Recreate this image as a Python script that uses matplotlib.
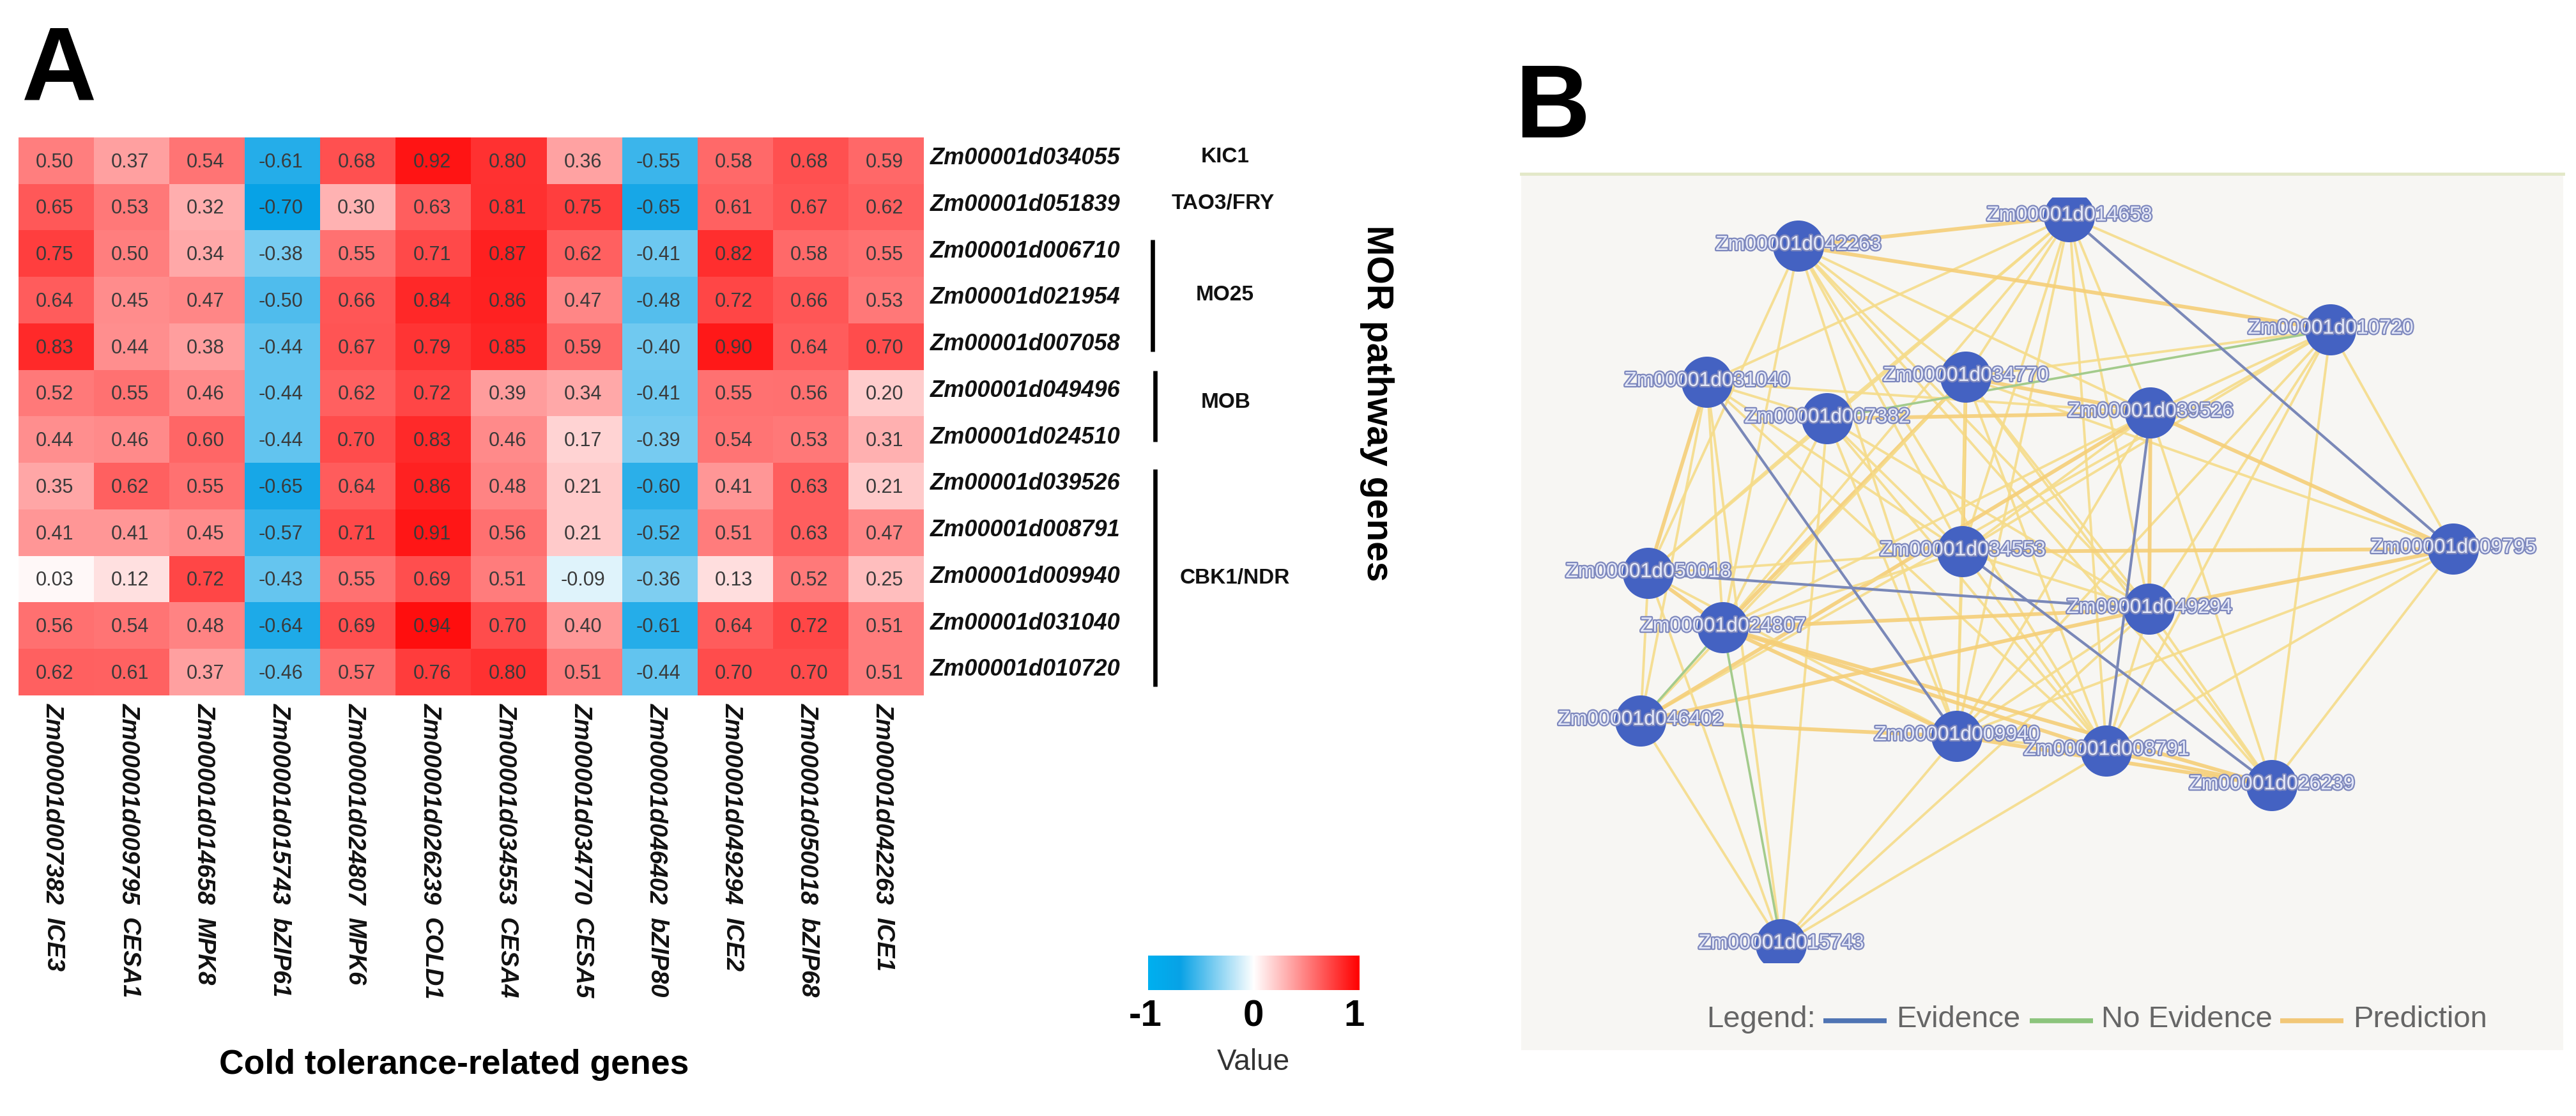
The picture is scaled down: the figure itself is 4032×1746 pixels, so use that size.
import numpy as np
import matplotlib
matplotlib.use('Agg')
import matplotlib.pyplot as plt
import matplotlib.patheffects as pe
from matplotlib.colors import LinearSegmentedColormap
from matplotlib.patches import Rectangle

plt.rcParams['font.family'] = ['Liberation Sans', 'DejaVu Sans']

# panel A
row_genes = ['034055', '051839', '006710', '021954', '007058', '049496',
             '024510', '039526', '008791', '009940', '031040', '010720']
col_genes = ['007382', '009795', '014658', '015743', '024807', '026239',
             '034553', '034770', '046402', '049294', '050018', '042263']
col_names = ['ICE3', 'CESA1', 'MPK8', 'bZIP61', 'MPK6', 'COLD1',
             'CESA4', 'CESA5', 'bZIP80', 'ICE2', 'bZIP68', 'ICE1']
values = [
    [0.50, 0.37, 0.54, -0.61, 0.68, 0.92, 0.80, 0.36, -0.55, 0.58, 0.68, 0.59],
    [0.65, 0.53, 0.32, -0.70, 0.30, 0.63, 0.81, 0.75, -0.65, 0.61, 0.67, 0.62],
    [0.75, 0.50, 0.34, -0.38, 0.55, 0.71, 0.87, 0.62, -0.41, 0.82, 0.58, 0.55],
    [0.64, 0.45, 0.47, -0.50, 0.66, 0.84, 0.86, 0.47, -0.48, 0.72, 0.66, 0.53],
    [0.83, 0.44, 0.38, -0.44, 0.67, 0.79, 0.85, 0.59, -0.40, 0.90, 0.64, 0.70],
    [0.52, 0.55, 0.46, -0.44, 0.62, 0.72, 0.39, 0.34, -0.41, 0.55, 0.56, 0.20],
    [0.44, 0.46, 0.60, -0.44, 0.70, 0.83, 0.46, 0.17, -0.39, 0.54, 0.53, 0.31],
    [0.35, 0.62, 0.55, -0.65, 0.64, 0.86, 0.48, 0.21, -0.60, 0.41, 0.63, 0.21],
    [0.41, 0.41, 0.45, -0.57, 0.71, 0.91, 0.56, 0.21, -0.52, 0.51, 0.63, 0.47],
    [0.03, 0.12, 0.72, -0.43, 0.55, 0.69, 0.51, -0.09, -0.36, 0.13, 0.52, 0.25],
    [0.56, 0.54, 0.48, -0.64, 0.69, 0.94, 0.70, 0.40, -0.61, 0.64, 0.72, 0.51],
    [0.62, 0.61, 0.37, -0.46, 0.57, 0.76, 0.80, 0.51, -0.44, 0.70, 0.70, 0.51],
]
group_names = ['KIC1', 'TAO3/FRY', 'MO25', 'MOB', 'CBK1/NDR']
group_x = [1918, 1914, 1917, 1919, 1933]
group_y = [245, 318, 462, 629, 904]
bar_x = [1804, 1808, 1808]
bar_top = [375, 580, 734]
bar_bottom = [550, 691, 1074]

# panel B, node places are in picture pixels
node_ids = ['014658', '042263', '010720', '031040', '034770', '007382',
            '039526', '034553', '009795', '050018', '049294', '024807',
            '046402', '009940', '008791', '026239', '015743']
node_x = [3239, 2815, 3648, 2672, 3077, 2860, 3366, 3072, 3840, 2580, 3364,
          2697, 2568, 3063, 3297, 3556, 2788]
node_y = [339, 385, 516, 598, 590, 655, 646, 863, 859, 897, 953, 982, 1128,
          1152, 1175, 1229, 1478]
prediction = {
    0: [1, 2, 3, 4, 5, 6, 7, 9, 10, 11, 13, 14],
    1: [2, 4, 6, 7, 9, 10, 11, 13, 14, 15],
    2: [4, 6, 7, 8, 10, 12, 13, 14, 15],
    3: [5, 6, 7, 9, 11, 12, 14, 16],
    4: [6, 7, 8, 10, 11, 12, 13, 14, 15],
    5: [6, 7, 9, 10, 11, 13, 14, 16],
    6: [7, 8, 10, 11, 12, 13, 15],
    7: [8, 9, 10, 11, 13, 14],
    8: [10, 13, 14, 15],
    9: [11, 12, 13, 16],
    10: [11, 12, 13, 14, 15, 16],
    11: [13, 14, 15],
    12: [13, 16],
    13: [14, 15, 16],
    14: [15, 16],
}
strong_edges = [(12, 13), (1, 2), (11, 13), (11, 14), (11, 15), (10, 11),
                (10, 12), (6, 12), (8, 10), (6, 8), (14, 15), (13, 15),
                (4, 6), (5, 6), (6, 10), (4, 7), (3, 9), (9, 11), (0, 1),
                (7, 8), (4, 11)]
evidence_edges = [(0, 8), (3, 13), (9, 10), (7, 15), (6, 14)]
no_evidence_edges = [(2, 5), (11, 12), (11, 16)]

legend_names = ['Evidence', 'No Evidence', 'Prediction']
legend_text_x = [2968, 3289, 3683]
legend_line_x = [2854, 3177, 3569]

W, H = 4032, 1746
fig = plt.figure(figsize=(W / 100, H / 100), dpi=100, facecolor='white')

# everything outside the heatmap is placed in pixels
bg = fig.add_axes([0, 0, 1, 1])
bg.set_xlim(0, W)
bg.set_ylim(H, 0)
bg.axis('off')

cmap = LinearSegmentedColormap.from_list(
    'cold', [(0, '#00B0F0'), (0.15, '#08A2E6'), (0.5, '#FFFFFF'), (1, '#FF0000')])

# heatmap
ax = fig.add_axes([29 / W, 1 - 1088 / H, (1446 - 29) / W, (1088 - 215) / H])
data = np.array(values)
ax.imshow(data, cmap=cmap, vmin=-1, vmax=1, aspect='auto', interpolation='nearest')
ax.axis('off')
for i in range(data.shape[0]):
    for j in range(data.shape[1]):
        ax.text(j - 0.02, i + 0.03, f'{data[i, j]:.2f}', ha='center', va='center',
                fontsize=22, color='#3A3A3A')
    ax.text(11.58, i - 0.05, 'Zm00001d' + row_genes[i], ha='left', va='center',
            fontsize=26, fontweight='bold', style='italic', color='#111111', clip_on=False)
for j in range(data.shape[1]):
    ax.text(j - 0.04, 11.67, 'Zm00001d' + col_genes[j], rotation=-90, ha='center', va='top',
            fontsize=27.5, fontweight='bold', style='italic', color='#111111', clip_on=False)
    ax.text(j - 0.04, 16.27, col_names[j], rotation=-90, ha='center', va='top',
            fontsize=27.5, fontweight='bold', style='italic', color='#111111', clip_on=False)

bg.text(93, 156, 'A', fontsize=117, fontweight='bold', ha='center', va='baseline')
bg.text(2430, 215, 'B', fontsize=117, fontweight='bold', ha='center', va='baseline')

for name, x, y in zip(group_names, group_x, group_y):
    bg.text(x, y, name, fontsize=24, fontweight='bold', ha='center', va='center', color='#111111')
for x, y0, y1 in zip(bar_x, bar_top, bar_bottom):
    bg.plot([x, x], [y0, y1], color='black', lw=4.8, solid_capstyle='butt')

bg.text(2155, 631, 'MOR pathway genes', fontsize=41, fontweight='bold', rotation=-90,
        ha='center', va='center')
bg.text(711, 1666, 'Cold tolerance-related genes', fontsize=38.5, fontweight='bold',
        ha='center', va='center')

# colour key, white gap in the middle comes from the gradient itself
cb = fig.add_axes([1797 / W, 1 - 1549 / H, (2127 - 1797) / W, (1549 - 1495) / H])
cb.imshow(np.linspace(-1, 1, 256).reshape(1, -1), cmap=cmap, vmin=-1, vmax=1, aspect='auto')
cb.axis('off')
bg.text(1793, 1590, '-1', fontsize=42, ha='center', va='center', fontweight='bold')
bg.text(1962, 1590, '0', fontsize=42, ha='center', va='center', fontweight='bold')
bg.text(2120, 1590, '1', fontsize=42, ha='center', va='center', fontweight='bold')
bg.text(1962, 1662, 'Value', fontsize=33, ha='center', va='center', color='#333333')

# panel B
bg.add_patch(Rectangle((2381, 272), 4012 - 2381, 1643 - 272, facecolor='#F7F6F3', edgecolor='none', zorder=0))
bg.plot([2381, 4012], [272, 272], color='#E3E8C8', lw=3.5, zorder=1)
clip = Rectangle((2381, 309), 4012 - 2381, 1507 - 309, transform=bg.transData)

for a, others in prediction.items():
    for b in others:
        strong = (a, b) in strong_edges or (b, a) in strong_edges
        line, = bg.plot([node_x[a], node_x[b]], [node_y[a], node_y[b]],
                        color='#F5CF78' if strong else '#F5DC8A', lw=4.2 if strong else 2.8,
                        alpha=0.9, zorder=2)
        line.set_clip_path(clip)
for a, b in no_evidence_edges:
    bg.plot([node_x[a], node_x[b]], [node_y[a], node_y[b]], color='#A3CB8C', lw=2.6, zorder=3)
for a, b in evidence_edges:
    bg.plot([node_x[a], node_x[b]], [node_y[a], node_y[b]], color='#7A88B8', lw=3, zorder=3)

nodes = bg.scatter(node_x, node_y, s=3318, color='#4462C2', edgecolors='none', zorder=4)
nodes.set_clip_path(clip)
for name, x, y in zip(node_ids, node_x, node_y):
    bg.text(x, y - 2, 'Zm00001d' + name, fontsize=23, ha='center', va='center', color='#E4E8F8',
            zorder=5, path_effects=[pe.withStroke(linewidth=3.2, foreground='#7E88BD')])

# legend
bg.text(2671, 1595, 'Legend:', fontsize=34, color='#666666', ha='left', va='center', zorder=5)
legend_colors = ['#4F74B3', '#8CC47C', '#F2C777']
for name, tx, lx, c in zip(legend_names, legend_text_x, legend_line_x, legend_colors):
    bg.plot([lx, lx + 99], [1597, 1597], color=c, lw=5.5, solid_capstyle='butt', zorder=5)
    bg.text(tx, 1595, name, fontsize=34, color='#666666', ha='left', va='center', zorder=5)

fig.savefig('out.png', dpi=100, facecolor='white')
